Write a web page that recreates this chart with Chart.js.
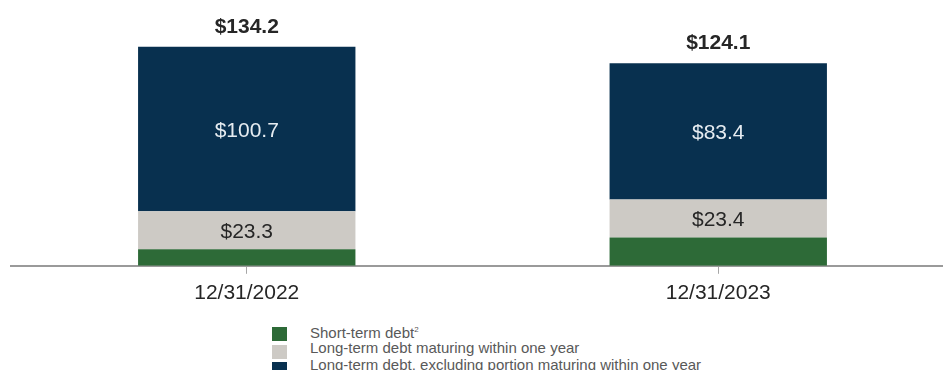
<!DOCTYPE html>
<html>
<head>
<meta charset="utf-8">
<script src="https://cdn.jsdelivr.net/npm/chart.js@4.4.1/dist/chart.umd.min.js"></script>
<style>
    html, body { margin: 0; padding: 0; background: #fff; overflow: hidden; }
    #wrap { position: relative; width: 955px; height: 319px; }
    #legend {
        position: absolute; left: 272px; top: 327px;
        font-family: 'Liberation Sans', Arial, sans-serif; font-size: 15px; color: #595959;
    }
    .item { height: 17.5px; line-height: 14px; position: relative; padding-left: 38px; white-space: nowrap; }
    .item .txt { position: relative; top: -4px; }
    .box { position: absolute; left: 0; top: 0; width: 15px; height: 14px; }
</style>
</head>
<body>
<div id="wrap"><canvas id="debtChart"></canvas></div>
<div id="legend"></div>
<script>
const categories      = ['12/31/2022', '12/31/2023'];
const shortTermDebt   = [10.2, 17.3];
const longTermCurrent = [23.3, 23.4];
const longTermExcl    = [100.7, 83.4];
const totals          = [134.2, 124.1];

const seriesNames = ['Short-term debt\u00B2', 'Long-term debt maturing within one year', 'Long-term debt, excluding portion maturing within one year'];
const COLORS = ['#2D6A37', '#CDCAC5', '#08304F'];

const labelPlugin = {
    id: 'valueLabels',
    afterDatasetsDraw(chart) {
        const ctx = chart.ctx;
        ctx.save();
        ctx.textAlign = 'center';
        ctx.textBaseline = 'middle';
        ctx.font = "21px 'Liberation Sans', Arial, sans-serif";
        [1, 2].forEach(di => {
            const meta = chart.getDatasetMeta(di);
            meta.data.forEach((bar, i) => {
                const v = chart.data.datasets[di].data[i];
                const mid = (bar.y + bar.base) / 2;
                ctx.fillStyle = di === 2 ? '#E6ECF1' : '#262626';
                ctx.fillText('$' + v.toFixed(1), bar.x, mid + 2);
            });
        });
        ctx.font = "bold 21px 'Liberation Sans', Arial, sans-serif";
        ctx.fillStyle = '#262626';
        const top = chart.getDatasetMeta(2);
        top.data.forEach((bar, i) => {
            ctx.fillText('$' + totals[i].toFixed(1), bar.x, bar.y - 20);
        });
        ctx.restore();
    }
};

new Chart(document.getElementById('debtChart'), {
    type: 'bar',
    data: {
        labels: categories,
        datasets: [
            { label: seriesNames[0], data: shortTermDebt,   backgroundColor: COLORS[0] },
            { label: seriesNames[1], data: longTermCurrent, backgroundColor: COLORS[1] },
            { label: seriesNames[2], data: longTermExcl,    backgroundColor: COLORS[2] }
        ]
    },
    options: {
        responsive: true,
        maintainAspectRatio: false,
        animation: false,
        categoryPercentage: 1,
        barPercentage: 0.461,
        layout: { padding: { top: 21, left: 11, right: 1, bottom: 6 } },
        plugins: { legend: { display: false }, tooltip: { enabled: false } },
        scales: {
            x: {
                stacked: true,
                grid: { offset: false, drawOnChartArea: false, tickLength: 8, color: '#A6A6A6' },
                border: { color: '#9A9A9A', width: 2 },
                ticks: { color: '#262626', padding: 7, font: { family: "'Liberation Sans', Arial, sans-serif", size: 21 } }
            },
            y: { stacked: true, display: false, min: 0, max: 150 }
        }
    },
    plugins: [labelPlugin]
});

const legendDiv = document.getElementById('legend');
seriesNames.forEach((name, i) => {
    const row = document.createElement('div');
    row.className = 'item';
    const txt = i === 0 ? 'Short-term debt<sup style="font-size:8px;vertical-align:6px">2</sup>' : name;
    row.innerHTML = `<span class="box" style="background:${COLORS[i]}"></span><span class="txt">${txt}</span>`;
    legendDiv.appendChild(row);
});
</script>
</body>
</html>
